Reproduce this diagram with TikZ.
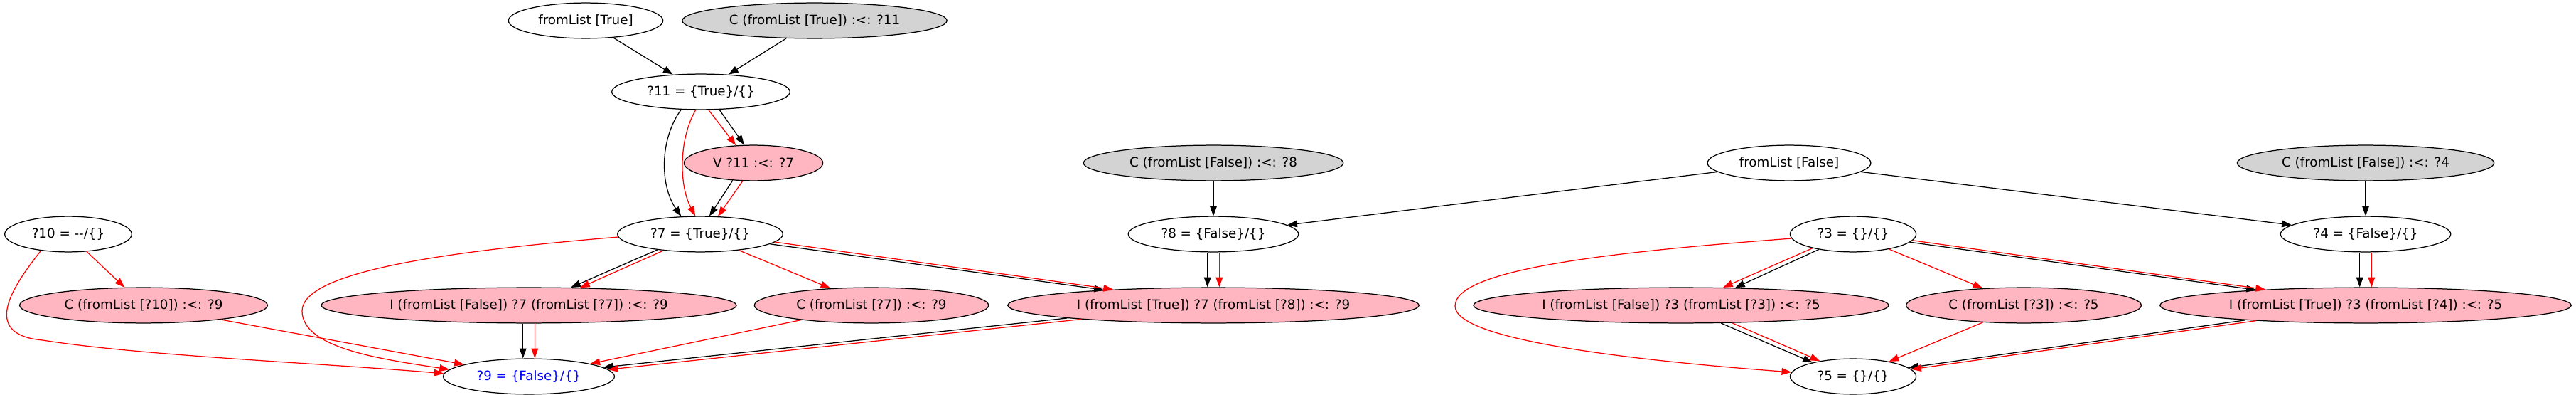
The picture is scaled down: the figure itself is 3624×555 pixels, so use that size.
\documentclass[tikz,border=0pt]{standalone}
\usepackage{fontspec}
\setmainfont{DejaVu Sans}
\usepackage{tikz}
\usetikzlibrary{arrows.meta,shapes.geometric}
\definecolor{pinkfill}{RGB}{255,182,193}
\definecolor{grayfill}{RGB}{211,211,211}

\begin{document}
\begin{tikzpicture}[
    x=0.01in, y=-0.01in,
    font=\fontsize{13.2}{16}\selectfont,
    graph_node/.style={ellipse, draw, line width=0.9pt, inner sep=0pt, minimum height=36pt},
    var_node/.style={graph_node, fill=white},
    given_node/.style={graph_node, fill=grayfill},
    constr_node/.style={graph_node, fill=pinkfill},
    dep/.style={-{Triangle[length=10pt,width=7pt]}, line width=0.9pt, color=black},
    flow/.style={dep, color=red}
]
\useasboundingbox (0,0) rectangle (3624,555);

\node (fl_true)  [var_node,    minimum width=157pt] at (824,29)   {fromList [True]};
\node (c_true)   [given_node,  minimum width=269pt] at (1146,29)  {C (fromList [True]) :<: ?11};
\node (q11)      [var_node,    minimum width=181pt] at (986,129)  {?11 = \{True\}/\{\}};
\node (v11)      [constr_node, minimum width=141pt] at (1060,229) {V ?11 :<: ?7};
\node (c_false8) [given_node,  minimum width=264pt] at (1707,229) {C (fromList [False]) :<: ?8};
\node (fl_false) [var_node,    minimum width=166pt] at (2517,229) {fromList [False]};
\node (c_false4) [given_node,  minimum width=261pt] at (3328,229) {C (fromList [False]) :<: ?4};

\node (q10) [var_node, minimum width=129pt] at (96,329)   {?10 = -{}-/\{\}};
\node (q7)  [var_node, minimum width=168pt] at (985,329)  {?7 = \{True\}/\{\}};
\node (q8)  [var_node, minimum width=173pt] at (1707,329) {?8 = \{False\}/\{\}};
\node (q3)  [var_node, minimum width=128pt] at (2607,329) {?3 = \{\}/\{\}};
\node (q4)  [var_node, minimum width=173pt] at (3328,329) {?4 = \{False\}/\{\}};

\node (c10)      [constr_node, minimum width=252pt] at (202,429)  {C (fromList [?10]) :<: ?9};
\node (i_false7) [constr_node, minimum width=422pt] at (744,429)  {I (fromList [False]) ?7 (fromList [?7]) :<: ?9};
\node (c7)       [constr_node, minimum width=238pt] at (1226,429) {C (fromList [?7]) :<: ?9};
\node (i_true7)  [constr_node, minimum width=418pt] at (1707,429) {I (fromList [True]) ?7 (fromList [?8]) :<: ?9};
\node (i_false3) [constr_node, minimum width=422pt] at (2365,429) {I (fromList [False]) ?3 (fromList [?3]) :<: ?5};
\node (c3)       [constr_node, minimum width=239pt] at (2847,429) {C (fromList [?3]) :<: ?5};
\node (i_true3)  [constr_node, minimum width=418pt] at (3328,429) {I (fromList [True]) ?3 (fromList [?4]) :<: ?5};

\node (q9) [var_node, minimum width=174pt, text=blue] at (744,529) {?9 = \{False\}/\{\}};
\node (q5) [var_node, minimum width=128pt] at (2607,529) {?5 = \{\}/\{\}};

\draw [dep]  (fl_true) -- (q11);
\draw [dep]  (c_true) -- (q11);
\draw [dep]  (q11.-44) -- (v11.117);
\draw [flow] (q11.-67) -- (v11.135);
\draw [dep]  (q11.-138) .. controls (928,195) and (928,260) .. (q7.137);
\draw [flow] (q11.-106) .. controls (955,195) and (955,260) .. (q7.105);
\draw [dep]  (v11.-140) -- (q7.63);
\draw [flow] (v11.-121) -- (q7.45);

\draw [dep]  (q7.-160) -- (i_false7.23);
\draw [flow] (q7.-156) -- (i_false7.19);
\draw [flow] (q7) -- (c7);
\draw [dep]  (q7.-8) -- (i_true7.172);
\draw [flow] (q7.-6) -- (i_true7.171);
\draw [flow] (q7.182) .. controls (640,352) and (425,380) .. (425,437)
             .. controls (425,490) and (540,505) .. (q9.175);

\draw [flow] (q10) -- (c10);
\draw [flow] (q10.-149) .. controls (20,400) and (-30,470) .. (60,478)
             .. controls (200,500) and (450,510) .. (q9.178);
\draw [flow] (c10) -- (q9);
\draw [dep]  ([xshift=-6pt]i_false7.south) -- ([xshift=-6pt]q9.north);
\draw [flow] ([xshift=6pt]i_false7.south) -- ([xshift=6pt]q9.north);
\draw [flow] (c7) -- (q9);
\draw [dep]  (i_true7.185) -- (q9.7);
\draw [flow] (i_true7.186) -- (q9.5);

\draw [dep]  (c_false8) -- (q8);
\draw [dep]  (fl_false) -- (q8);
\draw [dep]  (fl_false) -- (q4);
\draw [dep]  ([xshift=-6pt]q8.south) -- ([xshift=-6pt]i_true7.north);
\draw [flow] ([xshift=6pt]q8.south) -- ([xshift=6pt]i_true7.north);
\draw [dep]  (c_false4) -- (q4);
\draw [dep]  ([xshift=-6pt]q4.south) -- ([xshift=-6pt]i_true3.north);
\draw [flow] ([xshift=6pt]q4.south) -- ([xshift=6pt]i_true3.north);

\draw [dep]  (q3.-156) -- (i_false3.18);
\draw [flow] (q3.-161) -- (i_false3.23);
\draw [flow] (q3) -- (c3);
\draw [dep]  (q3.-8) -- (i_true3.172);
\draw [flow] (q3.-6) -- (i_true3.171);
\draw [flow] (q3.184) .. controls (2250,355) and (2047,380) .. (2047,430)
             .. controls (2047,480) and (2320,508) .. (q5.176);
\draw [dep]  (i_false3.-24) -- (q5.161);
\draw [flow] (i_false3.-19) -- (q5.155);
\draw [flow] (c3) -- (q5);
\draw [dep]  (i_true3.187) -- (q5.9);
\draw [flow] (i_true3.188) -- (q5.7);

\end{tikzpicture}
\end{document}
